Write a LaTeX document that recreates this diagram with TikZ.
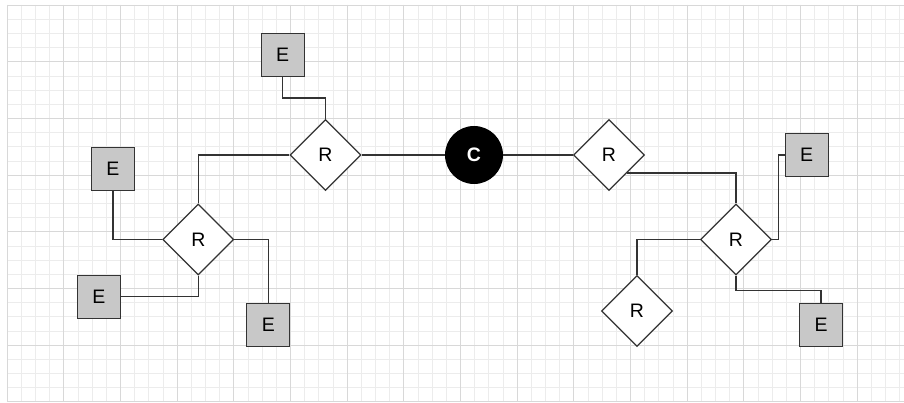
\documentclass[tikz,border=0pt]{standalone}
\usepackage{fontspec}
\setmainfont{Liberation Sans}
\usetikzlibrary{shapes.geometric}
\definecolor{efill}{HTML}{C8C8C8}
\definecolor{edgec}{HTML}{333333}
\definecolor{minorc}{HTML}{ECECEC}
\definecolor{majorc}{HTML}{D8D8D8}
\begin{document}
\begin{tikzpicture}[x=1pt,y=-1pt,
  lbl/.style={font=\fontsize{19.5}{19.5}\selectfont},
  ent/.style={lbl, draw=edgec, fill=efill, rectangle, minimum size=43pt, inner sep=0pt, line width=1.3pt},
  rel/.style={lbl, draw=edgec, fill=white, diamond, minimum size=71pt, inner sep=0pt, line width=1.3pt},
  cls/.style={font=\fontsize{19.5}{19.5}\selectfont\bfseries, text=white, fill=black, circle, minimum size=58pt, inner sep=0pt},
  link/.style={draw=edgec, line width=1.3pt},
  minorgrid/.style={draw=minorc, line width=0.6pt},
  majorgrid/.style={draw=majorc, line width=0.8pt}]
\useasboundingbox (0,0) rectangle (904,403);
\fill[white] (0,0) rectangle (904,403);
% grid
\foreach \i in {0,...,63} {\draw[minorgrid] ({7+\i*14.1667},5) -- ({7+\i*14.1667},402);}
\foreach \j in {0,...,28} {\draw[minorgrid] (7,{5+\j*14.1667}) -- (904,{5+\j*14.1667});}
\foreach \i in {0,4,...,60} {\draw[majorgrid] ({7+\i*14.1667},5) -- ({7+\i*14.1667},402);}
\foreach \j in {0,4,...,28} {\draw[majorgrid] (7,{5+\j*14.1667}) -- (904,{5+\j*14.1667});}
% nodes
\node[ent] (Etop) at (282.7,55) {E};
\node[rel] (Rtop) at (325.5,155) {R};
\node[ent] (E1) at (113,168.7) {E};
\node[rel] (Rl) at (198.3,239.5) {R};
\node[ent] (E2) at (99,296.7) {E};
\node[ent] (E3) at (268.3,325) {E};
\node[cls] (C) at (474,155) {C};
\node[rel] (Rr1) at (609,155) {R};
\node[rel] (Rr2) at (736,239.5) {R};
\node[ent] (Er1) at (806.7,155) {E};
\node[rel] (Rr3) at (637,311) {R};
\node[ent] (Er2) at (821,325) {E};
% connectors
\draw[link] (Etop.south) -- ++(0,21) -| (Rtop.north);
\draw[link] (Rtop.west) -| (Rl.north);
\draw[link] (C.west) -- (Rtop.east);
\draw[link] (C.east) -- (Rr1.west);
\draw[link] (E1.south) |- (Rl.west);
\draw[link] (E2.east) -| (Rl.south);
\draw[link] (Rl.east) -| (E3.north);
\draw[link] (Rr1.south east) -| (Rr2.north);
\draw[link] (Er1.west) -- ++(-6,0) |- (Rr2.east);
\draw[link] (Rr2.west) -| (Rr3.north);
\draw[link] (Rr2.south) -- ++(0,15) -| (Er2.north);
\end{tikzpicture}
\end{document}
